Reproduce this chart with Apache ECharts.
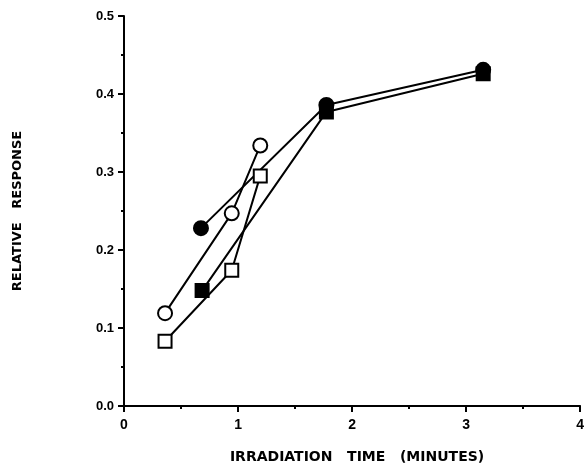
<!DOCTYPE html>
<html>
<head>
<meta charset="utf-8">
<script src="https://cdn.jsdelivr.net/npm/echarts@6/dist/echarts.min.js"></script>
<style>
  html, body { margin: 0; padding: 0; background: #fff; }
  #chart { width: 587px; height: 469px; }
</style>
</head>
<body>
<div id="chart"></div>
<script>
// irradiation time (minutes) vs relative response, four runs
const filledCircleX = [0.675, 1.775, 3.15]
const filledCircleY = [0.228, 0.386, 0.431]
const filledSquareX = [0.685, 1.775, 3.15]
const filledSquareY = [0.148, 0.377, 0.426]
const openCircleX = [0.36, 0.945, 1.195]
const openCircleY = [0.119, 0.247, 0.334]
const openSquareX = [0.36, 0.945, 1.195]
const openSquareY = [0.083, 0.174, 0.295]

const xTicks = [0, 1, 2, 3, 4]
const yTicks = [0, 0.1, 0.2, 0.3, 0.4, 0.5]

const font = '"Liberation Sans", Arial, sans-serif'
const wideFont = '"DejaVu Sans", sans-serif'

function pairs(xs, ys) {
  return xs.map((x, i) => [x, ys[i]])
}

function series(xs, ys, symbol, filled) {
  return {
    type: 'line',
    data: pairs(xs, ys),
    symbol: symbol,
    symbolSize: symbol === 'rect' ? 13 : 14,
    showAllSymbol: true,
    lineStyle: { color: '#000', width: 2 },
    itemStyle: {
      color: filled ? '#000' : '#fff',
      borderColor: '#000',
      borderWidth: 2,
    },
    emphasis: { disabled: true },
    animation: false,
  }
}

const chart = echarts.init(document.getElementById('chart'))
chart.setOption({
  animation: false,
  grid: { left: 124, right: -2, top: 16, bottom: 53, containLabel: false },
  xAxis: {
    type: 'value',
    min: 0,
    max: 4,
    interval: 1,
    name: 'IRRADIATION   TIME   (MINUTES)',
    nameLocation: 'middle',
    nameGap: 44,
    nameTextStyle: { fontFamily: wideFont, fontWeight: 'bold', fontSize: 14, color: '#000', padding: [0, 0, 0, 10] },
    axisLine: { show: true, onZero: false, lineStyle: { color: '#000', width: 2 } },
    axisTick: { show: true, length: 6, lineStyle: { color: '#000', width: 2 } },
    minorTick: { show: true, splitNumber: 2, length: 3, lineStyle: { color: '#000', width: 2 } },
    axisLabel: {
      margin: 12,
      fontFamily: font,
      fontWeight: 'bold',
      fontSize: 14,
      color: '#000',
      showMaxLabel: true,
      formatter: (v) => (xTicks.includes(v) ? String(v) : ''),
    },
    splitLine: { show: false },
  },
  yAxis: {
    type: 'value',
    min: 0,
    max: 0.5,
    interval: 0.1,
    name: 'RELATIVE   RESPONSE',
    nameLocation: 'middle',
    nameGap: 100,
    nameTextStyle: { fontFamily: wideFont, fontWeight: 'bold', fontSize: 13, color: '#000' },
    axisLine: { show: true, onZero: false, lineStyle: { color: '#000', width: 2 } },
    axisTick: { show: true, length: 6, lineStyle: { color: '#000', width: 2 } },
    minorTick: { show: true, splitNumber: 2, length: 3, lineStyle: { color: '#000', width: 2 } },
    axisLabel: {
      margin: 10,
      fontFamily: font,
      fontWeight: 'bold',
      fontSize: 13,
      color: '#000',
      formatter: (v) => {
        const t = yTicks.find((y) => Math.abs(y - v) < 1e-9)
        return t === undefined ? '' : t.toFixed(1)
      },
    },
    splitLine: { show: false },
  },
  series: [
    series(openSquareX, openSquareY, 'rect', false),
    series(openCircleX, openCircleY, 'circle', false),
    series(filledSquareX, filledSquareY, 'rect', true),
    series(filledCircleX, filledCircleY, 'circle', true),
  ],
})
</script>
</body>
</html>
